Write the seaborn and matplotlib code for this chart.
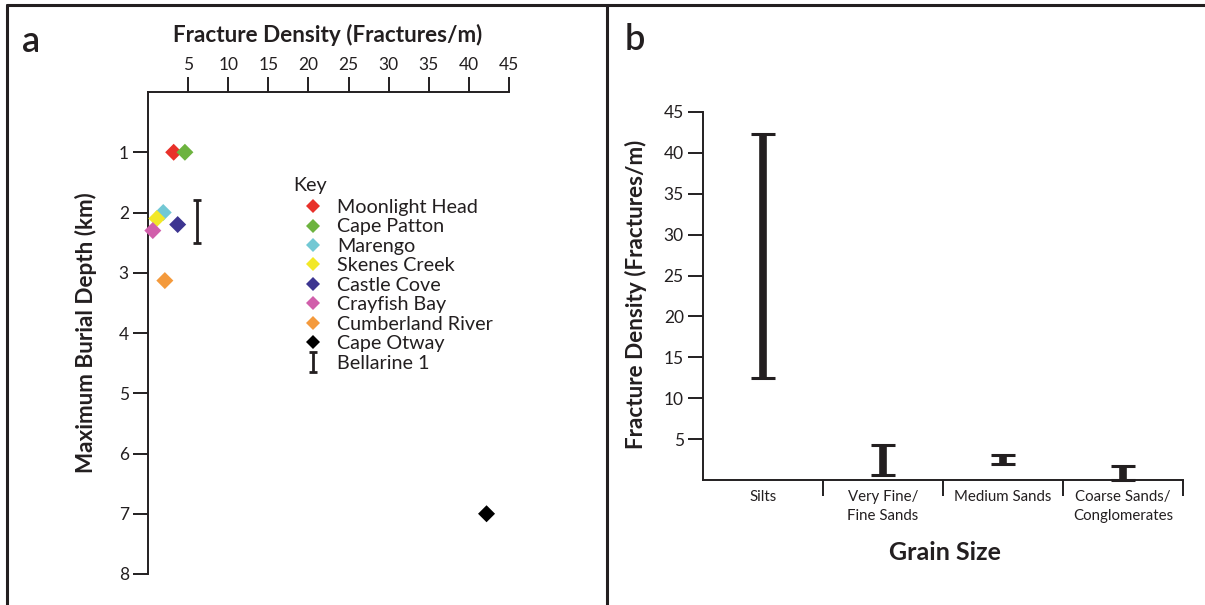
import numpy as np
import pandas as pd
import matplotlib
matplotlib.use("Agg")
import matplotlib.pyplot as plt
from matplotlib.lines import Line2D
import seaborn as sns

# ---------------- data ----------------
sites = ["Moonlight Head", "Cape Patton", "Marengo", "Skenes Creek",
         "Castle Cove", "Crayfish Bay", "Cumberland River", "Cape Otway"]
site_colors = ["#e8312a", "#6db33f", "#72c8d4", "#f2e827",
               "#3d3591", "#d15fab", "#f49a3c", "#000000"]
site_density = [3.2, 4.6, 1.9, 1.1, 3.7, 0.6, 2.1, 42.2]
site_depth = [1.0, 1.0, 2.0, 2.1, 2.2, 2.3, 3.13, 7.0]

bellarine_label = "Bellarine 1"
bellarine_density = 6.15
bellarine_depth_min = 1.8
bellarine_depth_max = 2.5

depth_ticks = [1, 2, 3, 4, 5, 6, 7, 8]
density_ticks = [5, 10, 15, 20, 25, 30, 35, 40, 45]

grain_sizes = ["Silts", "Very Fine/\nFine Sands", "Medium Sands",
               "Coarse Sands/\nConglomerates"]
grain_min = [12.5, 0.6, 2.0, 0.0]
grain_max = [42.3, 4.3, 3.0, 1.7]

# ---------------- style ----------------
sns.set_theme(style="ticks")
plt.rcParams["font.family"] = ["Lato", "DejaVu Sans"]
INK = "#231f20"
TITLE_FS = 16.2
TICK_FS = 12.5

W, H = 1205, 605
fig = plt.figure(figsize=(W / 100, H / 100), dpi=100)
fig.patch.set_facecolor("white")


def px_axes(l, t, r, b):
    return fig.add_axes([l / W, 1 - b / H, (r - l) / W, (b - t) / H])


# ---------------- panel a ----------------
axa = px_axes(148, 92, 509, 574)
df = pd.DataFrame({"site": sites, "density": site_density, "depth": site_depth})
sns.scatterplot(data=df, x="density", y="depth", hue="site",
                palette=dict(zip(sites, site_colors)), marker="D", s=75,
                linewidth=0, legend=False, ax=axa, zorder=3, clip_on=False)

b_mid = (bellarine_depth_min + bellarine_depth_max) / 2
eb = axa.errorbar([bellarine_density], [b_mid],
                  yerr=[[b_mid - bellarine_depth_min], [bellarine_depth_max - b_mid]],
                  fmt="none", ecolor=INK, elinewidth=2.0, capsize=3.2, capthick=2.0,
                  label=bellarine_label)

axa.set_xlim(0, 45)
axa.set_ylim(8, 0)
axa.xaxis.tick_top()
axa.xaxis.set_label_position("top")
axa.set_xticks(density_ticks)
axa.set_yticks(depth_ticks)
for s in ["right", "bottom"]:
    axa.spines[s].set_visible(False)
for s in ["top", "left"]:
    axa.spines[s].set_linewidth(1.4)
    axa.spines[s].set_color(INK)
axa.tick_params(axis="both", direction="out", length=10.8, width=1.4,
                color=INK, labelsize=TICK_FS, labelcolor=INK, pad=3)
axa.tick_params(axis="x", top=True, labeltop=True, bottom=False, labelbottom=False)

axa.set_xlabel("Fracture Density (Fractures/m)", fontsize=TITLE_FS,
               fontweight="bold", color=INK)
axa.xaxis.set_label_coords((328 - 148) / 361, 1 + (92 - 35) / 482)
axa.xaxis.label.set_va("center")
axa.set_ylabel("Maximum Burial Depth (km)", fontsize=TITLE_FS,
               fontweight="bold", color=INK)
axa.yaxis.set_label_coords((86 - 148) / 361, (574 - 333) / 482)
axa.yaxis.label.set_va("center")

handles = [Line2D([], [], marker="D", linestyle="none", markerfacecolor=c,
                  markeredgewidth=0, markersize=7) for c in site_colors]
handles.append(eb)
labels = sites + [bellarine_label]
leg = axa.legend(handles, labels, title="Key", loc="upper left",
                 bbox_to_anchor=(293 / W, 1 - 177 / H),
                 bbox_transform=fig.transFigure, frameon=False,
                 fontsize=14.2, title_fontsize=14.2, labelspacing=0.125,
                 handlelength=2.0, handletextpad=0.25, borderpad=0,
                 borderaxespad=0)
leg._legend_box.align = "left"
leg._legend_box.sep = 3.6
for t in leg.get_texts():
    t.set_color(INK)
leg.get_title().set_color(INK)

# ---------------- panel b ----------------
axb = px_axes(703, 112, 1183, 480)
xpos = np.arange(len(grain_sizes)) + 0.5
gmin = np.array(grain_min)
gmax = np.array(grain_max)
gmid = (gmin + gmax) / 2
axb.errorbar(xpos, gmid, yerr=[gmid - gmin, gmax - gmid], fmt="none",
             ecolor=INK, elinewidth=5.5, capsize=8.5, capthick=2.2,
             clip_on=False, zorder=3)
axb.set_xlim(0, 4)
axb.set_ylim(0, 45)
axb.set_yticks(range(5, 46, 5))
axb.set_xticks([1, 2, 3, 4])
axb.set_xticklabels([])
axb.set_xticks(xpos, minor=True)
axb.set_xticklabels(grain_sizes, minor=True, linespacing=1.45)
for s in ["right", "top"]:
    axb.spines[s].set_visible(False)
for s in ["left", "bottom"]:
    axb.spines[s].set_linewidth(1.4)
    axb.spines[s].set_color(INK)
axb.tick_params(axis="y", direction="out", length=10.8, width=1.4, color=INK,
                labelsize=TICK_FS, labelcolor=INK, pad=3)
axb.tick_params(axis="x", which="major", direction="out", length=11.5, width=1.4,
                color=INK)
axb.tick_params(axis="x", which="minor", length=0, labelsize=10.8,
                labelcolor=INK, pad=7)
axb.set_xlabel("Grain Size", fontsize=18, fontweight="bold", color=INK)
axb.xaxis.set_label_coords((945 - 703) / 480, -(553 - 480) / 368)
axb.xaxis.label.set_va("center")
axb.set_ylabel("Fracture Density (Fractures/m)", fontsize=TITLE_FS,
               fontweight="bold", color=INK)
axb.yaxis.set_label_coords((636 - 703) / 480, (480 - 294) / 368)
axb.yaxis.label.set_va("center")

# ---------------- panel labels and frame ----------------
fig.text(22 / W, 1 - 42 / H, "a", fontsize=26, fontweight="semibold",
         color=INK, va="center", ha="left")
fig.text(625 / W, 1 - 40 / H, "b", fontsize=26, fontweight="semibold",
         color=INK, va="center", ha="left")
frame_kw = dict(transform=fig.transFigure, color=INK, linewidth=2.2)
fig.add_artist(Line2D([7 / W, 1], [1 - 5 / H, 1 - 5 / H], **frame_kw))
fig.add_artist(Line2D([7 / W, 7 / W], [0, 1 - 5 / H], **frame_kw))
fig.add_artist(Line2D([607 / W, 607 / W], [0, 1 - 5 / H], **frame_kw))

fig.savefig("out.png", dpi=100, facecolor="white")
